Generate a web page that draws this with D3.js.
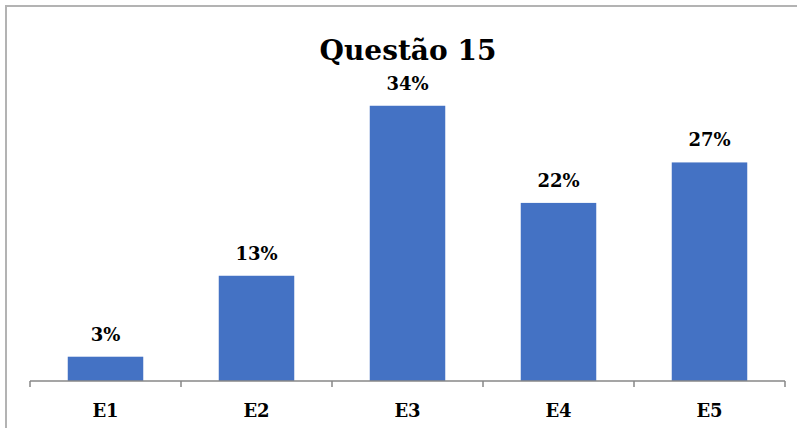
<!DOCTYPE html>
<html>
<head>
<meta charset="utf-8">
<script src="https://cdn.jsdelivr.net/npm/d3@7"></script>
<style>
  html, body { margin: 0; padding: 0; background: #fff; }
  svg { display: block; }
</style>
</head>
<body>
<svg id="chart" width="797" height="428"></svg>
<script>
const categories = ["E1", "E2", "E3", "E4", "E5"];
const values = [0.03, 0.13, 0.34, 0.22, 0.27];
const valueLabels = ["3%", "13%", "34%", "22%", "27%"];
const title = "Questão 15";

const FONT = "'DejaVu Serif', 'Liberation Serif', serif";

const svg = d3.select("#chart");
const W = 797, H = 428;

// chart frame (top and left edges visible)
svg.append("path")
  .attr("d", `M6,${H} L6,6 L${W},6`)
  .attr("fill", "none")
  .attr("stroke", "#b3b3b3")
  .attr("stroke-width", 2);

const left = 30, right = 785, baseY = 381;

const x = d3.scaleBand()
  .domain(categories)
  .range([left, right])
  .paddingInner(0.5)
  .paddingOuter(0.25);

const y = d3.scaleLinear()
  .domain([0, 0.42])
  .range([baseY, 41]);

// bars
svg.append("g").selectAll("rect")
  .data(categories)
  .join("rect")
  .attr("x", d => x(d))
  .attr("y", (d, i) => y(values[i]))
  .attr("width", x.bandwidth())
  .attr("height", (d, i) => baseY - y(values[i]))
  .attr("fill", "#4472C4");

function styleText(sel, size) {
  return sel.style("font-family", FONT)
    .style("font-weight", "bold")
    .style("font-size", size + "px")
    .attr("fill", "#000");
}

// value labels
svg.append("g").selectAll("text")
  .data(categories)
  .join("text")
  .attr("x", d => x(d) + x.bandwidth() / 2)
  .attr("y", (d, i) => y(values[i]) - 16)
  .attr("text-anchor", "middle")
  .call(styleText, 18)
  .text((d, i) => valueLabels[i]);

// category axis with ticks at band boundaries
const axisG = svg.append("g");
axisG.append("line")
  .attr("x1", left).attr("x2", right)
  .attr("y1", baseY).attr("y2", baseY)
  .attr("stroke", "#878787").attr("stroke-width", 1.5);
const step = (right - left) / categories.length;
const tickPos = d3.range(categories.length + 1).map(i => left + i * step);
axisG.selectAll("line.tick")
  .data(tickPos)
  .join("line")
  .attr("class", "tick")
  .attr("x1", d => d).attr("x2", d => d)
  .attr("y1", baseY).attr("y2", baseY + 6)
  .attr("stroke", "#878787").attr("stroke-width", 1.5);
axisG.selectAll("text")
  .data(categories)
  .join("text")
  .attr("x", d => x(d) + x.bandwidth() / 2)
  .attr("y", 417)
  .attr("text-anchor", "middle")
  .call(styleText, 18)
  .text(d => d);

// title
svg.append("text")
  .attr("x", 408)
  .attr("y", 60)
  .attr("text-anchor", "middle")
  .call(styleText, 28)
  .text(title);
</script>
</body>
</html>
